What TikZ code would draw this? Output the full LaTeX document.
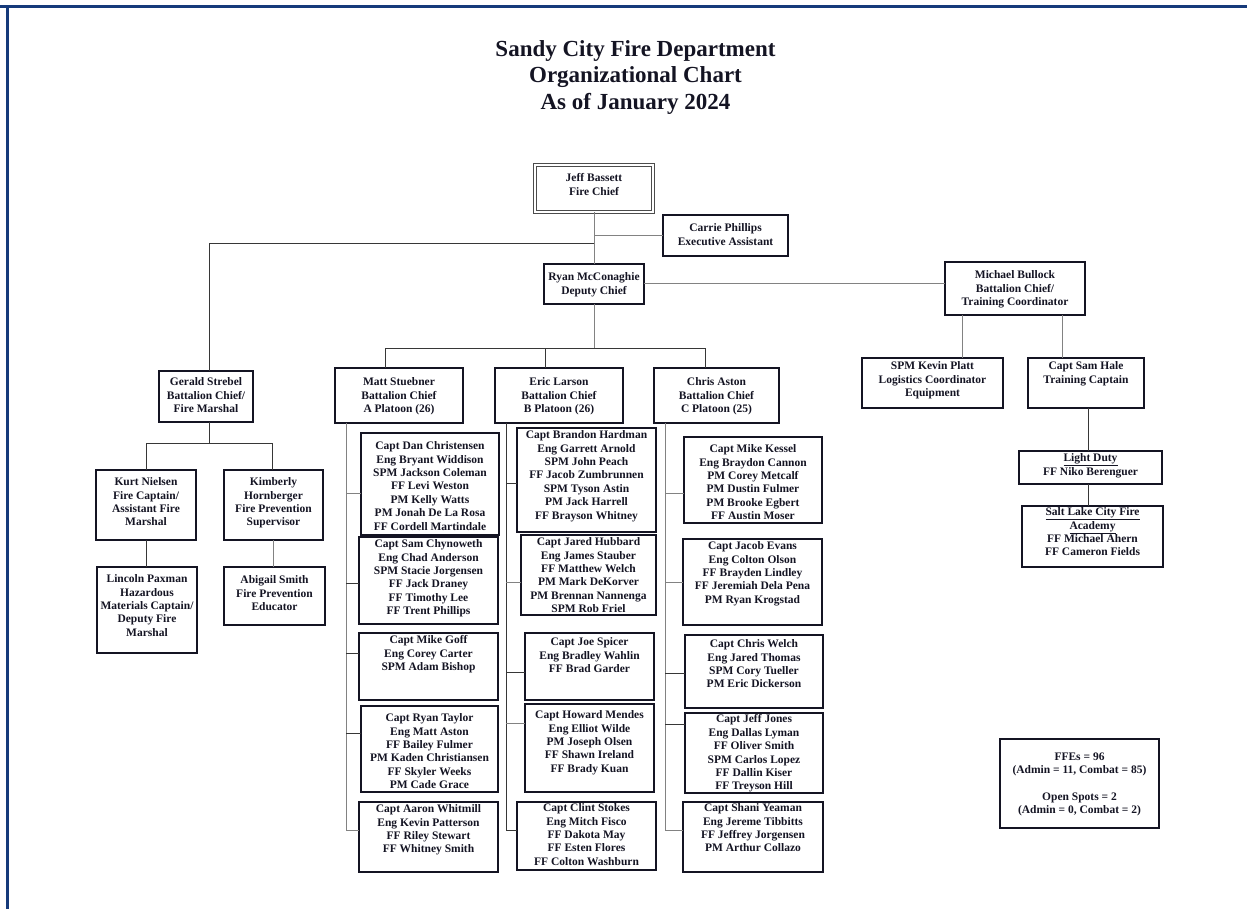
\documentclass[tikz,border=0pt]{standalone}
\usepackage{fontspec}
\setmainfont{Liberation Serif}
\usetikzlibrary{calc}
\definecolor{frameblue}{RGB}{22,58,122}
\definecolor{ink}{RGB}{20,20,35}
\definecolor{lineDark}{RGB}{55,55,55}
\definecolor{lineLight}{RGB}{130,130,130}
\tikzset{
  orgbox/.style={draw=ink, line width=1.1pt, inner sep=0pt, outer sep=0pt},
  chiefbox/.style={draw=gray!60!black, double=white, double distance=1.4pt, line width=1.2pt, inner sep=0pt, outer sep=0pt},
  orgtext/.style={font=\bfseries\fontsize{11.5}{13.4}\selectfont, text=ink, align=center, inner sep=0pt, anchor=north},
  titletext/.style={font=\bfseries\fontsize{23}{26.5}\selectfont, text=ink, align=center, inner sep=0pt, anchor=north},
  conn/.style={draw=lineDark, line width=1pt},
  connl/.style={draw=lineLight, line width=1pt},
}
\newcommand\orgnode[8][orgbox]{%
  \pgfmathsetmacro\obx{(#3+#5)/2}%
  \pgfmathsetmacro\oby{(#4+#6)/2}%
  \pgfmathsetmacro\obw{#5-#3}%
  \pgfmathsetmacro\obh{#6-#4}%
  \pgfmathsetmacro\obt{#7-4.5}%
  \node[#1, minimum width=\obw pt, minimum height=\obh pt] (#2) at (\obx,\oby) {};
  \node[orgtext] (#2t) at (\obx,\obt) {#8};
}
\begin{document}
\begin{tikzpicture}[x=1pt,y=-1pt]
\useasboundingbox (0,0) rectangle (1247,909);
% frame
\fill[frameblue] (0,5) rectangle (1247,8);
\fill[frameblue] (6,5) rectangle (9,909);
% title
\node[titletext] (title) at (635.5,40) {Sandy City Fire Department\\Organizational Chart\\As of January 2024};

% top
\orgnode[chiefbox]{jeff}{535}{165}{653}{212}{178}{Jeff Bassett\\Fire Chief}
\orgnode{carrie}{663}{215}{788}{256}{228}{Carrie Phillips\\Executive Assistant}
\orgnode{ryan}{544}{264}{644}{304}{277}{Ryan McConaghie\\Deputy Chief}
\orgnode{mich}{945}{262}{1085}{315}{275}{Michael Bullock\\Battalion Chief/\\Training Coordinator}
\orgnode{kevin}{862}{358}{1003}{408}{366}{SPM Kevin Platt\\Logistics Coordinator\\Equipment}
\orgnode{sam}{1028}{358}{1144}{408}{366}{Capt Sam Hale\\Training Captain}
\orgnode{light}{1019}{451}{1162}{484}{458}{\underline{Light Duty}\\FF Niko Berenguer}
\orgnode{slc}{1022}{506}{1163}{567}{512}{\underline{Salt Lake City Fire}\\\underline{Academy}\\FF Michael Ahern\\FF Cameron Fields}
\orgnode{ffe}{1000}{739}{1159}{828}{757}{FFEs = 96\\(Admin = 11, Combat = 85)\\[13.4pt]Open Spots = 2\\(Admin = 0, Combat = 2)}

% fire marshal branch
\orgnode{gerald}{159}{371}{253}{422}{382}{Gerald Strebel\\Battalion Chief/\\Fire Marshal}
\orgnode{kurt}{96}{470}{196}{540}{482}{Kurt Nielsen\\Fire Captain/\\Assistant Fire\\Marshal}
\orgnode{kim}{224}{470}{323}{540}{482}{Kimberly\\Hornberger\\Fire Prevention\\Supervisor}
\orgnode{lincoln}{97}{567}{197}{653}{579}{Lincoln Paxman\\Hazardous\\Materials Captain/\\Deputy Fire\\Marshal}
\orgnode{abigail}{224}{567}{325}{625}{580}{Abigail Smith\\Fire Prevention\\Educator}

% battalion chiefs
\orgnode{matt}{335}{368}{463}{423}{382}{Matt Stuebner\\Battalion Chief\\A Platoon (26)}
\orgnode{eric}{495}{368}{623}{423}{382}{Eric Larson\\Battalion Chief\\B Platoon (26)}
\orgnode{chris}{654}{368}{779}{423}{382}{Chris Aston\\Battalion Chief\\C Platoon (25)}

% A platoon
\orgnode{a1}{361}{433}{499}{535}{446}{Capt Dan Christensen\\Eng Bryant Widdison\\SPM Jackson Coleman\\FF Levi Weston\\PM Kelly Watts\\PM Jonah De La Rosa\\FF Cordell Martindale}
\orgnode{a2}{359}{537}{498}{624}{544}{Capt Sam Chynoweth\\Eng Chad Anderson\\SPM Stacie Jorgensen\\FF Jack Draney\\FF Timothy Lee\\FF Trent Phillips}
\orgnode{a3}{359}{633}{498}{700}{640}{Capt Mike Goff\\Eng Corey Carter\\SPM Adam Bishop}
\orgnode{a4}{361}{706}{498}{792}{718}{Capt Ryan Taylor\\Eng Matt Aston\\FF Bailey Fulmer\\PM Kaden Christiansen\\FF Skyler Weeks\\PM Cade Grace}
\orgnode{a5}{359}{802}{498}{872}{809}{Capt Aaron Whitmill\\Eng Kevin Patterson\\FF Riley Stewart\\FF Whitney Smith}

% B platoon
\orgnode{b1}{517}{428}{656}{532}{435}{Capt Brandon Hardman\\Eng Garrett Arnold\\SPM John Peach\\FF Jacob Zumbrunnen\\SPM Tyson Astin\\PM Jack Harrell\\FF Brayson Whitney}
\orgnode{b2}{521}{535}{656}{615}{542}{Capt Jared Hubbard\\Eng James Stauber\\FF Matthew Welch\\PM Mark DeKorver\\PM Brennan Nannenga\\SPM Rob Friel}
\orgnode{b3}{525}{633}{654}{700}{642}{Capt Joe Spicer\\Eng Bradley Wahlin\\FF Brad Garder}
\orgnode{b4}{525}{704}{654}{792}{715}{Capt Howard Mendes\\Eng Elliot Wilde\\PM Joseph Olsen\\FF Shawn Ireland\\FF Brady Kuan}
\orgnode{b5}{517}{802}{656}{870}{808}{Capt Clint Stokes\\Eng Mitch Fisco\\FF Dakota May\\FF Esten Flores\\FF Colton Washburn}

% C platoon
\orgnode{c1}{684}{437}{822}{523}{449}{Capt Mike Kessel\\Eng Braydon Cannon\\PM Corey Metcalf\\PM Dustin Fulmer\\PM Brooke Egbert\\FF Austin Moser}
\orgnode{c2}{683}{539}{822}{625}{546}{Capt Jacob Evans\\Eng Colton Olson\\FF Brayden Lindley\\FF Jeremiah Dela Pena\\PM Ryan Krogstad}
\orgnode{c3}{685}{635}{823}{708}{644}{Capt Chris Welch\\Eng Jared Thomas\\SPM Cory Tueller\\PM Eric Dickerson}
\orgnode{c4}{685}{713}{823}{793}{719}{Capt Jeff Jones\\Eng Dallas Lyman\\FF Oliver Smith\\SPM Carlos Lopez\\FF Dallin Kiser\\FF Treyson Hill}
\orgnode{c5}{683}{802}{823}{872}{808}{Capt Shani Yeaman\\Eng Jereme Tibbitts\\FF Jeffrey Jorgensen\\PM Arthur Collazo}

% ---- connectors ----
\coordinate (jg) at (594,244);
\draw[connl] (jeff.south) -- (ryan.north);
\draw[connl] (jeff.south |- carrie.west) -- (carrie.west);
\coordinate (gtop) at (209,244);
\draw[conn] (jg) -- (gtop) -- (gtop |- gerald.north);
\draw[connl] (ryan.east) -- (ryan.east -| mich.west);

\coordinate (dbus) at (594,348);
\coordinate (dm) at (385,348);
\coordinate (de) at (545,348);
\coordinate (dc) at (705,348);
\draw[connl] (ryan.south) -- (dbus);
\draw[conn] (dm |- matt.north) -- (dm) -- (dc) -- (dc |- chris.north);
\draw[conn] (de) -- (de |- eric.north);

\coordinate (mk) at (962,315);
\coordinate (ms) at (1062,315);
\draw[connl] (mk) -- (mk |- kevin.north);
\draw[connl] (ms) -- (ms |- sam.north);
\coordinate (sl) at (1088,408);
\draw[conn] (sl) -- (sl |- light.north);
\draw[conn] (sl |- light.south) -- (sl |- slc.north);

\coordinate (gbus) at (209,443);
\coordinate (gk) at (146,443);
\coordinate (gm) at (272,443);
\draw[conn] (gbus |- gerald.south) -- (gbus);
\draw[conn] (gk |- kurt.north) -- (gk) -- (gm) -- (gm |- kim.north);
\draw[conn] (kurt.south) -- (kurt.south |- lincoln.north);
\draw[connl] (kim.south) -- (kim.south |- abigail.north);

% A trunk
\coordinate (pa1) at (346,493);
\coordinate (pa2) at (346,583);
\coordinate (pa3) at (346,653);
\coordinate (pa4) at (346,733);
\coordinate (pa5) at (346,830);
\draw[connl] (pa1 |- matt.south) -- (pa5) -- (pa5 -| a5.west);
\draw[connl] (pa1) -- (pa1 -| a1.west);
\draw[conn] (pa2) -- (pa2 -| a2.west);
\draw[conn] (pa3) -- (pa3 -| a3.west);
\draw[conn] (pa4) -- (pa4 -| a4.west);

% B trunk
\coordinate (pb1) at (506,483);
\coordinate (pb2) at (506,582);
\coordinate (pb3) at (506,672);
\coordinate (pb4) at (506,723);
\coordinate (pb5) at (506,830);
\draw[conn] (pb1 |- eric.south) -- (pb5) -- (pb5 -| b5.west);
\draw[conn] (pb1) -- (pb1 -| b1.west);
\draw[connl] (pb2) -- (pb2 -| b2.west);
\draw[conn] (pb3) -- (pb3 -| b3.west);
\draw[connl] (pb4) -- (pb4 -| b4.west);

% C trunk
\coordinate (pc1) at (665,493);
\coordinate (pc2) at (665,582);
\coordinate (pc3) at (665,673);
\coordinate (pc4) at (665,724);
\coordinate (pc5) at (665,830);
\draw[connl] (pc1 |- chris.south) -- (pc5) -- (pc5 -| c5.west);
\draw[connl] (pc1) -- (pc1 -| c1.west);
\draw[connl] (pc2) -- (pc2 -| c2.west);
\draw[conn] (pc3) -- (pc3 -| c3.west);
\draw[conn] (pc4) -- (pc4 -| c4.west);
\end{tikzpicture}
\end{document}
